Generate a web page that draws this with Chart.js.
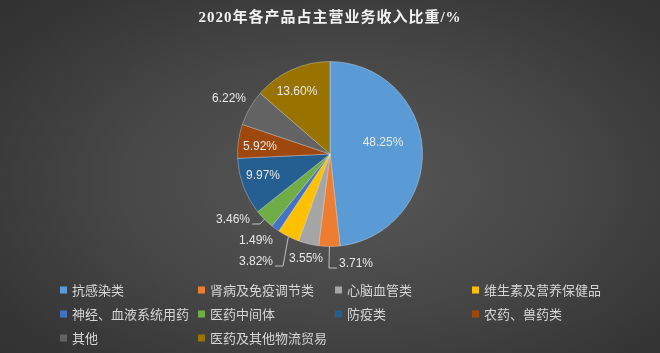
<!DOCTYPE html>
<html>
<head>
<meta charset="utf-8">
<script src="https://cdn.jsdelivr.net/npm/chart.js@4.4.1/dist/chart.umd.min.js"></script>
<style>
    html, body { margin: 0; padding: 0; }
    body {
        width: 660px;
        height: 353px;
        overflow: hidden;
        background: radial-gradient(ellipse 75% 80% at 52% 52%, #575757 0%, #474747 45%, #363636 80%, #2f2f2f 100%);
    }
    #wrap { position: relative; width: 660px; height: 353px; }
</style>
</head>
<body>
<div id="wrap"><canvas id="pieChart"></canvas></div>
<script>
// Data
const chartTitle = '2020年各产品占主营业务收入比重/%';
const categories = [
    '抗感染类', '肾病及免疫调节类', '心脑血管类', '维生素及营养保健品',
    '神经、血液系统用药', '医药中间体', '防疫类', '农药、兽药类',
    '其他', '医药及其他物流贸易'
];
const shares = [48.25, 3.71, 3.55, 3.82, 1.49, 3.46, 9.97, 5.92, 6.22, 13.60];

// Styling
const sliceColors = [
    '#5b9bd5', '#ed7d31', '#a5a5a5', '#ffc000', '#4472c4',
    '#70ad47', '#255e91', '#9e480e', '#636363', '#997300'
];
// label centre offsets from the pie centre (px) and whether a leader line is drawn
const labelOffsets = [
    [53, -11], [26, 110], [-24, 105], [-74, 108], [-74, 87],
    [-97, 66], [-67, 22], [-70, -7], [-101, -55], [-33, -62]
];
const labelLeader = [false, true, false, true, false, true, false, false, false, false];

const labelFont = '12px "Liberation Sans", Arial, sans-serif';
const legendFont = '13px "Noto Sans CJK SC", sans-serif';

// Title, slice labels and legend drawn on the canvas
const decorPlugin = {
    id: 'decor',
    afterDraw(chart) {
        const ctx = chart.ctx;
        const arcs = chart.getDatasetMeta(0).data;

        // title
        ctx.save();
        ctx.font = 'bold 15px "Liberation Serif", "Noto Sans CJK SC", serif';
        ctx.fillStyle = '#f2f2f2';
        ctx.textAlign = 'center';
        ctx.textBaseline = 'middle';
        if ('letterSpacing' in ctx) ctx.letterSpacing = '1px';
        ctx.fillText(chartTitle, 330, 18);
        ctx.restore();

        // slice labels
        ctx.save();
        ctx.font = labelFont;
        ctx.textBaseline = 'middle';
        ctx.textAlign = 'center';
        arcs.forEach((arc, i) => {
            const cx = arc.x, cy = arc.y;
            const lx = cx + labelOffsets[i][0];
            const ly = cy + labelOffsets[i][1];
            const text = shares[i].toFixed(2) + '%';
            const w = ctx.measureText(text).width;

            if (labelLeader[i]) {
                const mid = (arc.startAngle + arc.endAngle) / 2;
                const px = cx + Math.cos(mid) * arc.outerRadius;
                const py = cy + Math.sin(mid) * arc.outerRadius;
                const onLeft = lx < px;
                const edge = onLeft ? lx + w / 2 + 2 : lx - w / 2 - 2;
                const elbow = onLeft ? edge + 8 : edge - 8;
                ctx.strokeStyle = '#bfbfbf';
                ctx.lineWidth = 1;
                ctx.beginPath();
                ctx.moveTo(px, py);
                ctx.lineTo(elbow, ly + 4);
                ctx.lineTo(edge, ly + 4);
                ctx.stroke();
            }
            ctx.fillStyle = '#e8e8e8';
            ctx.fillText(text, lx, ly);
        });
        ctx.restore();

        // legend: 4 columns
        ctx.save();
        ctx.font = legendFont;
        ctx.textBaseline = 'middle';
        ctx.textAlign = 'left';
        const colX = [60, 198, 335, 472];
        const rowY = [290, 314, 338];
        categories.forEach((name, i) => {
            const x = colX[i % 4];
            const y = rowY[Math.floor(i / 4)];
            ctx.fillStyle = sliceColors[i];
            ctx.fillRect(x, y - 3.5, 7, 7);
            ctx.fillStyle = '#d6d6d6';
            ctx.fillText(name, x + 12, y);
        });
        ctx.restore();
    }
};

document.addEventListener('DOMContentLoaded', () => {
    const ctx = document.getElementById('pieChart');
    new Chart(ctx, {
        type: 'pie',
        data: {
            labels: categories,
            datasets: [{
                data: shares,
                backgroundColor: sliceColors,
                borderColor: 'rgba(255,255,255,0.3)',
                borderWidth: 1
            }]
        },
        options: {
            responsive: true,
            maintainAspectRatio: false,
            animation: false,
            layout: {
                padding: { top: 61, bottom: 106, left: 0, right: 0 }
            },
            plugins: {
                legend: { display: false },
                tooltip: { enabled: false }
            }
        },
        plugins: [decorPlugin]
    });
});
</script>
</body>
</html>
